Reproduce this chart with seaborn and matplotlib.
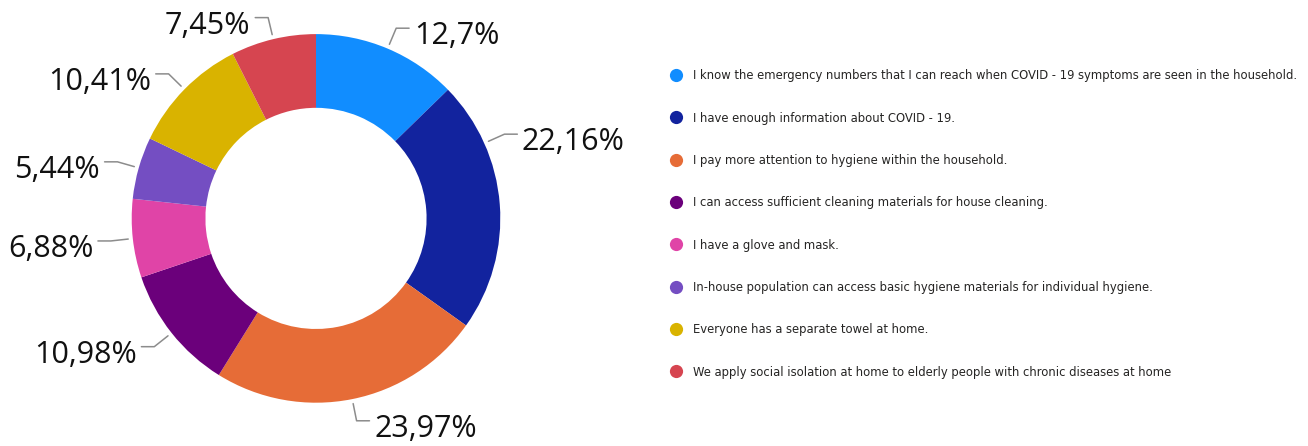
import numpy as np
import matplotlib
matplotlib.use('Agg')
import matplotlib.pyplot as plt
from matplotlib.lines import Line2D
from matplotlib import font_manager as fm
import seaborn as sns

# ---- data ----
categories = [
    "I know the emergency numbers that I can reach when COVID - 19 symptoms are seen in the household.",
    "I have enough information about COVID - 19.",
    "I pay more attention to hygiene within the household.",
    "I can access sufficient cleaning materials for house cleaning.",
    "I have a glove and mask.",
    "In-house population can access basic hygiene materials for individual hygiene.",
    "Everyone has a separate towel at home.",
    "We apply social isolation at home to elderly people with chronic diseases at home",
]
shares = [12.7, 22.16, 23.97, 10.98, 6.88, 5.44, 10.41, 7.45]
share_labels = ["12,7%", "22,16%", "23,97%", "10,98%", "6,88%", "5,44%", "10,41%", "7,45%"]
slice_colors = ["#118DFF", "#12239E", "#E66C37", "#6B007B", "#E044A7", "#744EC2", "#D9B300", "#D64550"]

# ---- style ----
sns.set_theme(style="white")
plt.rcParams["font.family"] = ["Open Sans", "DejaVu Sans"]

W, H = 1308, 446
fig = plt.figure(figsize=(W / 100, H / 100), dpi=100)
fig.patch.set_facecolor("white")

cx, cy, R = 316, 218.4, 184.3
L = 1.3
half = L * R
ax = fig.add_axes([(cx - half) / W, (H - cy - half) / H, 2 * half / W, 2 * half / H])

palette = sns.color_palette(slice_colors)
wedges, _ = ax.pie(shares, colors=palette, startangle=90, counterclock=False,
                   radius=1.0, wedgeprops=dict(width=0.4, linewidth=0))
ax.set_xlim(-L, L)
ax.set_ylim(-L, L)
ax.set_aspect("equal")
ax.axis("off")

# leader-line anchor tweak (degrees) to mimic original label placement
angle_shift = {1: 19.7}
for i, w in enumerate(wedges):
    mid = 0.5 * (w.theta1 + w.theta2) + angle_shift.get(i, 0.0)
    a = np.deg2rad(mid)
    ux, uy = np.cos(a), np.sin(a)
    side = 1 if ux >= 0 else -1
    p1 = (1.025 * ux, 1.025 * uy)
    p2 = (1.12 * ux, 1.12 * uy)
    p3 = (p2[0] + side * 0.07, p2[1])
    ax.plot([p1[0], p2[0], p3[0]], [p1[1], p2[1], p3[1]], color="#8c8c8c",
            lw=1.1, clip_on=False)
    ax.text(p3[0] + side * 0.025, p2[1] - 16 / R, share_labels[i],
            ha="left" if side > 0 else "right", va="baseline",
            fontsize=22, color="#111111", clip_on=False)

# ---- legend font: prefer a narrow / condensed face if one is installed ----
def pick_narrow_font():
    best = None
    for f in fm.fontManager.ttflist:
        narrow = (f.stretch in ("condensed", "semi-condensed", "extra-condensed")
                  or "Narrow" in f.name or "Condensed" in f.name)
        if not narrow or f.style != "normal":
            continue
        w = f.weight if isinstance(f.weight, int) else 400
        if w not in (300, 350, 400):
            continue
        if best is None or (w == 400 and best[1] != 400):
            best = (f.fname, w)
    return best[0] if best else None

narrow_file = pick_narrow_font()
if narrow_file:
    base_prop = fm.FontProperties(fname=narrow_file)
else:
    base_prop = fm.FontProperties(family="Lato")

renderer = fig.canvas.get_renderer()
target_w = 1295 - 693
probe = fig.text(0, 0, categories[0], fontproperties=base_prop, fontsize=12)
pw = probe.get_window_extent(renderer).width
probe.remove()
leg_size = min(12.0, 12.0 * target_w / pw)
leg_prop = base_prop.copy()
leg_prop.set_size(leg_size)
fs_px = leg_size * 100 / 72

handles = [Line2D([], [], marker="o", ls="", markersize=9.5, markerfacecolor=c,
                  markeredgewidth=0) for c in palette]

def make_legend(ls, x_anchor, top_px, pad):
    return fig.legend(handles, categories, loc="upper left",
                      bbox_to_anchor=(x_anchor / W, (H - top_px) / H), frameon=False,
                      prop=leg_prop, handlelength=1.0, handletextpad=pad,
                      labelspacing=ls, borderpad=0, borderaxespad=0,
                      labelcolor="#252423")

# calibrate legend spacing to the reference rows (first at y=76, pitch 42.3 px)
ls, top, x0, pad = 1.6, 67.0, 676 - fs_px / 2, (693 - 676 - fs_px / 2) / fs_px
leg = make_legend(ls, x0, top, pad)
for _ in range(2):
    fig.canvas.draw()
    ext = [t.get_window_extent(renderer) for t in leg.get_texts()]
    centers = [H - (e.y0 + e.y1) / 2 for e in ext]
    pitch = (centers[-1] - centers[0]) / (len(centers) - 1)
    ls = ls + (42.3 - pitch) / fs_px
    top = top + (76 - centers[0])
    x0 = x0 + (693 - ext[0].x0)
    leg.remove()
    leg = make_legend(ls, x0, top, pad)

fig.savefig("out.png", dpi=100, facecolor="white")
